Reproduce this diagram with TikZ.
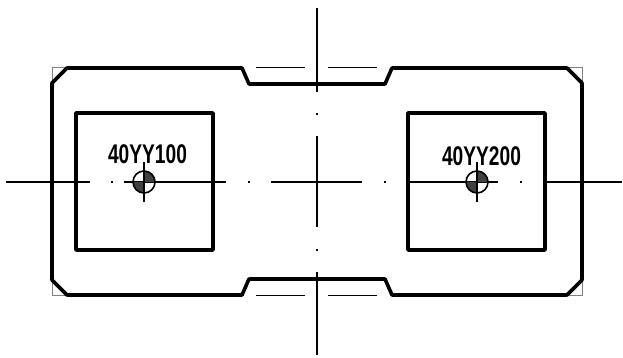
\documentclass[tikz,border=0pt]{standalone}
\usepackage{fontspec}
\setmainfont{Liberation Sans}
\tikzset{
  contour/.style={black, line width=3.6pt, line join=round},
  axisline/.style={black, line width=1.6pt},
  thinline/.style={black, line width=1pt},
  tagtext/.style={inner sep=0pt, xscale=0.71, font=\fontsize{27}{27}\selectfont\bfseries}
}
\begin{document}
\begin{tikzpicture}[x=1pt,y=-1pt]
\def\outline{(52,83) -- (67,68) -- (242,68) -- (249,84) -- (385,84) -- (392,68) -- (567,68) -- (582,83) -- (582,280) -- (567,295) -- (392,295) -- (385,279) -- (249,279) -- (242,295) -- (67,295) -- (52,280) -- cycle}
\useasboundingbox (0,0) rectangle (623,358);
%
% Coins et lignes fines :
\draw[thinline, gray] (52,83) -- (52,68) -- (67,68);
\draw[thinline, gray] (567,68) -- (582,68) -- (582,83);
\draw[thinline, gray] (582,280) -- (582,295) -- (567,295);
\draw[thinline, gray] (67,295) -- (52,295) -- (52,280);
\draw[thinline] (256,68) -- (305,68);
\draw[thinline] (328,68) -- (377,68);
\draw[thinline] (256,295) -- (305,295);
\draw[thinline] (328,295) -- (377,295);
%
\draw[contour] \outline;
\draw[contour] (76,113) rectangle (213,250);
\draw[contour] (408,113) rectangle (545,250);
%
% Axes :
\foreach \xa/\xb in {6/90,111/113,124/226,248/250,271/362,384/386,407/498,520/522,543/622}
  \draw[axisline] (\xa,182) -- (\xb,182);
\foreach \ya/\yb in {8/92,113/115,136/227,249/251,272/355}
  \draw[axisline] (317,\ya) -- (317,\yb);
%
% Capteurs :
\foreach \xc in {144,477} {
  \fill[black!75] (\xc,182) -- (\xc+11,182) arc[start angle=0, end angle=90, radius=11pt] -- cycle;
  \fill[black!75] (\xc,182) -- (\xc-11,182) arc[start angle=180, end angle=270, radius=11pt] -- cycle;
  \draw[axisline] (\xc,182) circle (11pt);
  \draw[axisline] (\xc,162) -- (\xc,202);
}
%
% Etiquettes :
\node[tagtext] (tagA) at (147.5,154) {40YY100};
\node[tagtext] (tagB) at (481.5,156) {40YY200};
\end{tikzpicture}
\end{document}
